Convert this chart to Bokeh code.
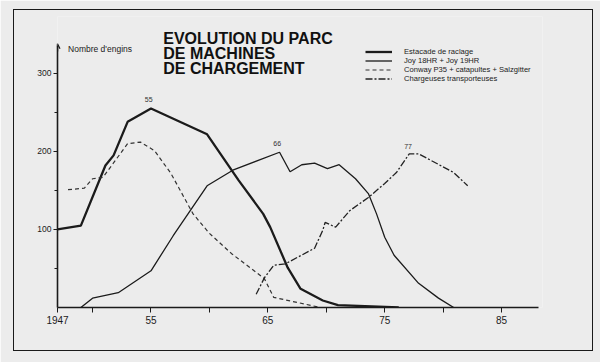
from bokeh.plotting import figure
from bokeh.models import (Range1d, FixedTicker, Label, Legend, LegendItem, Arrow, OpenHead,
                          InlineStyleSheet)
from bokeh.embed import file_html
from bokeh.resources import INLINE

# ---- data ----
est_years = [47, 49.0, 51.1, 51.8, 53.0, 55.0, 59.8, 62.5, 64.6, 65.2, 66.7, 67.8, 69.7, 71.0, 76.2]
est_vals = [100, 105, 182, 195, 238, 255, 222, 163, 120, 103, 51, 24, 9, 3, 0]

joy_years = [49.0, 50.0, 52.2, 55.0, 56.9, 59.8, 62.0, 66.0, 66.9, 67.9, 69.0, 70.1, 71.1,
             72.5, 73.6, 74.3, 75.0, 75.8, 77.9, 79.6, 80.9]
joy_vals = [0, 12, 19, 47, 92, 156, 176, 199, 174, 183, 185, 178, 183,
            165, 146, 120, 90, 67, 31, 12, 0]

conway_years = [47.9, 49.3, 50.0, 50.9, 53.0, 54.1, 55.3, 56.7, 58.6, 60.0, 61.9, 64.7, 65.5, 69.5]
conway_vals = [151, 153, 165, 167, 210, 212, 201, 172, 120, 95, 69, 37, 13, 0]

charg_years = [64.0, 64.7, 65.5, 66.5, 69.0, 69.7, 69.9, 70.8, 72.0, 73.6, 75.0, 76.0, 77.1, 77.9, 80.9, 82.1]
charg_vals = [17, 38, 54, 56, 76, 99, 109, 103, 124, 141, 159, 173, 197, 197, 173, 156]

series_names = ["Estacade de raclage", "Joy 18HR + Joy 19HR",
                "Conway P35 + catapultes + Salzgitter", "Chargeuses transporteuses"]
x_ticks = [47, 55, 65, 75, 85]
x_minor = [50, 60, 70, 80]
y_ticks = [100, 200, 300]
y_minor = [50, 150, 250]
title_lines = ["EVOLUTION DU PARC", "DE MACHINES", "DE CHARGEMENT"]
peak_labels = [("55", 54.8, 267), ("66", 65.8, 210), ("77", 77.0, 206)]

FONT = "Liberation Sans"
INK = "#1b1b1b"
BG = "#ececec"

p = figure(width=600, height=362, output_backend="svg", toolbar_location=None,
           x_range=Range1d(47, 88.5), y_range=Range1d(0, 373),
           min_border_left=57, min_border_right=58, min_border_top=16, min_border_bottom=55)
p.background_fill_color = BG
p.border_fill_color = BG
p.outline_line_color = None
p.grid.visible = False
p.stylesheets = [InlineStyleSheet(css="""
:host { position: relative; }
:host::after { content: ""; position: absolute; left: 13px; top: 9px; width: 578px; height: 340px;
  border: 1.5px solid #1a1a1a; pointer-events: none; z-index: 100; }
""")]

r1 = p.line(est_years, est_vals, line_color=INK, line_width=2.3)
r2 = p.line(joy_years, joy_vals, line_color=INK, line_width=1.3)
r3 = p.line(conway_years, conway_vals, line_color="#333333", line_width=1.2, line_dash="4 3")
r4 = p.line(charg_years, charg_vals, line_color="#222222", line_width=1.3, line_dash="7 2 2 2")

# axes
xa = p.xaxis[0]
xa.ticker = FixedTicker(ticks=x_ticks, minor_ticks=x_minor)
xa.major_label_overrides = {47: "1947"}
xa.bounds = (47, 88.2)
xa.axis_line_width = 1.6
xa.axis_line_color = INK
xa.major_tick_in = 0
xa.major_tick_out = 5
xa.minor_tick_in = 0
xa.minor_tick_out = 5
xa.major_tick_line_color = INK
xa.minor_tick_line_color = INK
xa.major_label_text_font = FONT
xa.major_label_text_font_size = "10px"
xa.major_label_text_color = INK
xa.major_label_standoff = 3

ya = p.yaxis[0]
ya.ticker = FixedTicker(ticks=y_ticks, minor_ticks=y_minor)
ya.bounds = (0, 336)
ya.axis_line_width = 1.6
ya.axis_line_color = INK
ya.major_tick_in = 0
ya.major_tick_out = 4
ya.minor_tick_in = 0
ya.minor_tick_out = 3
ya.major_tick_line_color = INK
ya.minor_tick_line_color = INK
ya.major_label_text_font = FONT
ya.major_label_text_font_size = "8.5px"
ya.major_label_text_color = INK
ya.major_label_standoff = 2

p.add_layout(Arrow(end=OpenHead(size=5, line_width=1.2, line_color=INK),
                   x_start=47, y_start=328, x_end=47, y_end=338,
                   line_width=1.4, line_color=INK))
p.add_layout(Label(x=47.9, y=331, text="Nombre d'engins", text_font=FONT,
                   text_font_size="8.5px", text_baseline="middle", text_color=INK))

for i, t in enumerate(title_lines):
    p.add_layout(Label(x=56.05, y=345 - i * 19.2, text=t, text_font=FONT,
                       text_font_style="bold", text_font_size="16px",
                       text_baseline="middle", text_color="#111111"))

for t, xx, yy in peak_labels:
    p.add_layout(Label(x=xx, y=yy, text=t, text_font=FONT, text_font_size="7px",
                       text_align="center", text_baseline="middle", text_color="#333333"))

legend = Legend(items=[LegendItem(label=n, renderers=[r]) for n, r in zip(series_names, [r1, r2, r3, r4])],
                location=(308, 224))
legend.label_text_font = FONT
legend.label_text_font_size = "7.6px"
legend.label_text_color = INK
legend.glyph_width = 27
legend.glyph_height = 9
legend.label_height = 9
legend.spacing = 0
legend.padding = 0
legend.margin = 0
legend.label_standoff = 12
legend.border_line_color = None
legend.background_fill_alpha = 0
p.add_layout(legend)

open("out.html", "w").write(file_html(p, INLINE))
